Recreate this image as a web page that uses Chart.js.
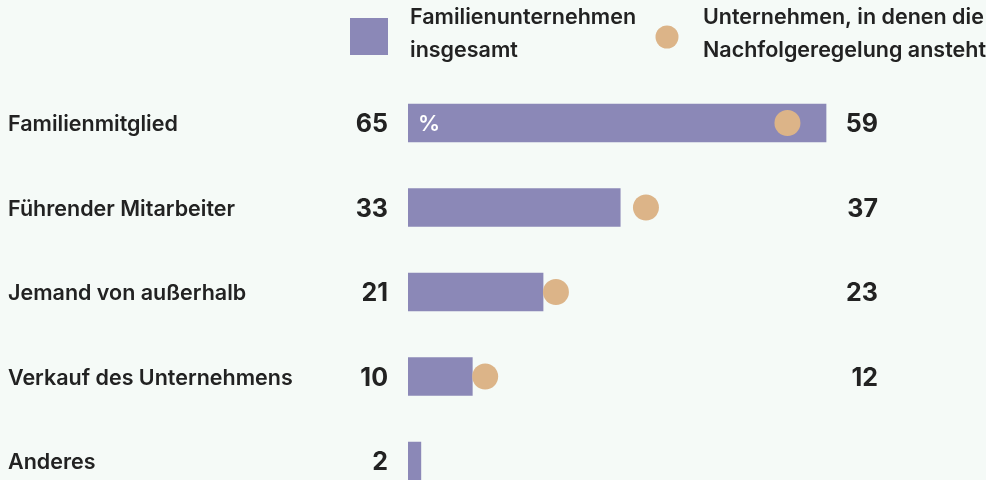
<!DOCTYPE html>
<html>
<head>
<meta charset="utf-8">
<script src="https://cdn.jsdelivr.net/npm/chart.js@4"></script>
<style>
  html, body { margin: 0; padding: 0; background: #f5faf7; overflow: hidden; }
  #wrap { width: 986px; height: 520px; }
</style>
</head>
<body>
<div id="wrap"><canvas id="chart"></canvas></div>
<script>
const categories = ['Familienmitglied', 'Führender Mitarbeiter', 'Jemand von außerhalb', 'Verkauf des Unternehmens', 'Anderes'];
const totalValues = [65, 33, 21, 10, 2];
const successionValues = [59, 37, 23, 12, null];
const legendLabels = [['Familienunternehmen', 'insgesamt'], ['Unternehmen, in denen die', 'Nachfolgeregelung ansteht']];

const barColor = '#8b88b7';
const dotColor = '#dcb488';
const textColor = '#222222';
const fontFamily = 'Inter, "Noto Sans", sans-serif';

// Beschriftungen und Legende selbst zeichnen
const labelsPlugin = {
  id: 'labels',
  afterDatasetsDraw(chart) {
    const ctx = chart.ctx;
    const yScale = chart.scales.y;
    const barMeta = chart.getDatasetMeta(0);
    ctx.save();
    ctx.fillStyle = textColor;
    ctx.textBaseline = 'alphabetic';
    categories.forEach((cat, i) => {
      const y = yScale.getPixelForValue(i);
      ctx.font = '600 21.5px ' + fontFamily;
      ctx.textAlign = 'left';
      ctx.fillText(cat, 8, y + 8);
      ctx.font = '700 25px ' + fontFamily;
      ctx.textAlign = 'right';
      ctx.fillText(String(totalValues[i]), 388, y + 9);
      if (successionValues[i] !== null) {
        ctx.fillText(String(successionValues[i]), 878, y + 9);
      }
    });
    // Prozentzeichen im ersten Balken
    const first = barMeta.data[0];
    ctx.fillStyle = '#ffffff';
    ctx.font = '600 22px ' + fontFamily;
    ctx.textAlign = 'left';
    ctx.fillText('%', first.base + 10, first.y + 8);

    // Legende
    ctx.fillStyle = barColor;
    ctx.fillRect(350, 18, 38, 37);
    ctx.fillStyle = dotColor;
    ctx.beginPath();
    ctx.arc(667, 37, 11.5, 0, Math.PI * 2);
    ctx.fill();
    ctx.fillStyle = textColor;
    ctx.font = '600 21.5px ' + fontFamily;
    ctx.textAlign = 'left';
    legendLabels[0].forEach((line, k) => ctx.fillText(line, 410, 24 + k * 33));
    legendLabels[1].forEach((line, k) => ctx.fillText(line, 703, 24 + k * 33));
    ctx.restore();
  }
};

new Chart(document.getElementById('chart'), {
  data: {
    labels: categories,
    datasets: [
      {
        type: 'bar',
        label: legendLabels[0].join(' '),
        data: totalValues,
        backgroundColor: barColor,
        barThickness: 38,
        order: 1
      },
      {
        type: 'line',
        label: legendLabels[1].join(' '),
        data: successionValues,
        showLine: false,
        pointRadius: 13,
        pointHoverRadius: 13,
        pointBackgroundColor: dotColor,
        pointBorderWidth: 0,
        order: 0
      }
    ]
  },
  options: {
    indexAxis: 'y',
    responsive: true,
    maintainAspectRatio: false,
    animation: false,
    layout: { padding: { left: 408, right: 63.5, top: 80.75, bottom: 16.75 } },
    scales: {
      x: { display: false, min: 0, max: 80 },
      y: { display: false, offset: true }
    },
    plugins: {
      legend: { display: false },
      tooltip: { enabled: false }
    }
  },
  plugins: [labelsPlugin]
});
</script>
</body>
</html>
